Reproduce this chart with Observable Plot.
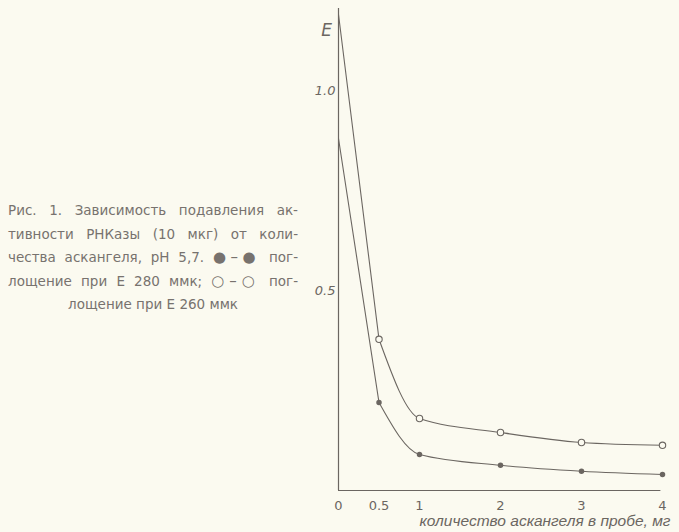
<!DOCTYPE html>
<html><head><meta charset="utf-8">
<script src="https://cdn.jsdelivr.net/npm/d3@7"></script>
<script src="https://cdn.jsdelivr.net/npm/@observablehq/plot@0.6"></script>
<style>
html,body{margin:0;padding:0;background:#fbfaf0;}
#wrap{position:relative;width:679px;height:532px;overflow:hidden;}
#chart{position:absolute;left:0;top:0;}
#cap{position:absolute;left:8px;top:199px;width:290px;font-family:"DejaVu Sans",sans-serif;font-size:13.5px;color:#77726e;line-height:23.5px;}
#cap div{text-align:justify;text-align-last:justify;white-space:nowrap;}
#cap div.last{text-align:center;text-align-last:center;}
#cap .b{font-size:15px;}
</style></head>
<body><div id="wrap"><div id="chart"></div>
<div id="cap">
<div>Рис. 1. Зависимость подавления ак-</div>
<div>тивности РНКазы (10 мкг) от коли-</div>
<div>чества аскангеля, pH 5,7. <span class="b">●–●</span> пог-</div>
<div>лощение при Е 280 ммк; <span class="b">○–○</span> пог-</div>
<div class="last">лощение при Е 260 ммк</div>
</div></div>
<script>
const amount = [0, 0.5, 1, 2, 3, 4];
const e280 = [0.88, 0.22, 0.09, 0.063, 0.048, 0.04];
const e260 = [1.19, 0.378, 0.18, 0.145, 0.12, 0.113];
const xTicks = [0, 0.5, 1, 2, 3, 4];
const xTickLabels = ["0", "0.5", "1", "2", "3", "4"];
const yTicks = [0.5, 1.0];
const yTickLabels = ["0.5", "1.0"];
const yTitle = "E";
const xTitle = "количество аскангеля в пробе, мг";

const ink = "#6b6661";
const d280 = amount.map((x, i) => ({x, y: e280[i]}));
const d260 = amount.map((x, i) => ({x, y: e260[i]}));

const chart = Plot.plot({
  width: 679, height: 532,
  marginLeft: 338, marginRight: 17, marginTop: 10, marginBottom: 42,
  x: {domain: [0, 4], axis: null},
  y: {domain: [0, 1.2], axis: null},
  style: {background: "transparent", color: ink},
  marks: [
    Plot.ruleX([0], {y1: 0, y2: 1.205, stroke: ink, strokeWidth: 1.2}),
    Plot.ruleY([0], {x1: 0, x2: 3.98, stroke: ink, strokeWidth: 1.2}),
    Plot.axisY({ticks: yTicks, tickFormat: (d, i) => yTickLabels[i], tickSize: 2, tickPadding: 1,
      fontSize: 13, fontStyle: "italic", fontFamily: "DejaVu Sans", stroke: null, fill: ink, label: null}),
    Plot.axisX({ticks: xTicks, tickFormat: (d, i) => xTickLabels[i], tickSize: 0, tickPadding: 10,
      fontSize: 13, fontFamily: "DejaVu Sans", fill: ink, label: null}),
    Plot.text([yTitle], {x: 0, y: 1.15, dx: -12, fontSize: 17, fontStyle: "italic", fontFamily: "DejaVu Sans", fill: ink}),
    Plot.text([xTitle], {x: 1, y: 0, dy: 31, textAnchor: "start", fontSize: 15.5, fontStyle: "italic", fontFamily: "Liberation Sans", fill: ink}),
    // straight first segment, smooth decay afterwards
    Plot.line(d260.slice(0, 2), {x: "x", y: "y", stroke: ink, strokeWidth: 1.1}),
    Plot.line(d280.slice(0, 2), {x: "x", y: "y", stroke: ink, strokeWidth: 1.1}),
    Plot.line(d260.slice(1), {x: "x", y: "y", curve: "monotone-x", stroke: ink, strokeWidth: 1.1}),
    Plot.line(d280.slice(1), {x: "x", y: "y", curve: "monotone-x", stroke: ink, strokeWidth: 1.1}),
    Plot.dot(d260.slice(1), {x: "x", y: "y", r: 3.2, fill: "#fbfaf0", stroke: ink, strokeWidth: 1.1}),
    Plot.dot(d280.slice(1), {x: "x", y: "y", r: 2, fill: ink, stroke: ink})
  ]
});
document.getElementById("chart").appendChild(chart);
</script></body></html>
